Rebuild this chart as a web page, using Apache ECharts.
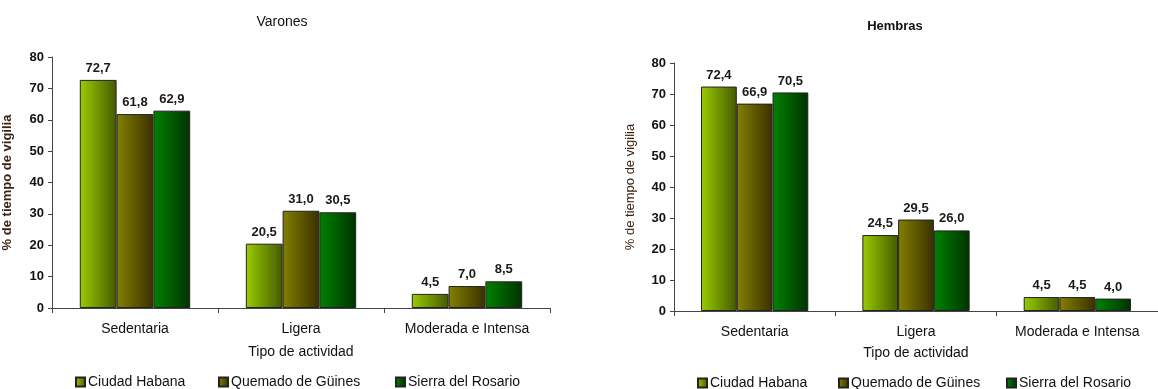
<!DOCTYPE html>
<html>
<head>
<meta charset="utf-8">
<script src="https://cdn.jsdelivr.net/npm/echarts@6/dist/echarts.min.js"></script>
<style>
  html, body { margin: 0; padding: 0; background: #fff; }
  #chart { width: 1158px; height: 389px; }
</style>
</head>
<body>
<div id="chart"></div>
<script>
// datos
var categorias = ["Sedentaria", "Ligera", "Moderada e Intensa"];
var zonas = ["Ciudad Habana", "Quemado de Güines", "Sierra del Rosario"];
var varonesHabana = [72.7, 20.5, 4.5];
var varonesQuemado = [61.8, 31.0, 7.0];
var varonesSierra = [62.9, 30.5, 8.5];
var hembrasHabana = [72.4, 24.5, 4.5];
var hembrasQuemado = [66.9, 29.5, 4.5];
var hembrasSierra = [70.5, 26.0, 4.0];
var yTicks = [0, 10, 20, 30, 40, 50, 60, 70, 80];

var fuente = "Liberation Sans";
var colores = [
  ["#99cc00", "#465a00"],
  ["#848000", "#3a3000"],
  ["#008200", "#003200"]
];

function grad(i) {
  return new echarts.graphic.LinearGradient(0, 0, 1, 0, [
    { offset: 0, color: colores[i][0] },
    { offset: 1, color: colores[i][1] }
  ]);
}

function serie(nombre, idx, datos, eje) {
  return {
    name: nombre,
    type: "bar",
    xAxisIndex: eje,
    yAxisIndex: eje,
    data: datos,
    barGap: "0%",
    barCategoryGap: "33.5%",
    itemStyle: { color: grad(idx), borderColor: "#222", borderWidth: 1 },
    label: {
      show: true,
      position: "top",
      distance: 5,
      fontFamily: fuente,
      fontWeight: "bold",
      fontSize: 13,
      color: "#1a1a1a",
      formatter: function (p) { return p.value.toFixed(1).replace(".", ","); }
    }
  };
}

function ejeX(grid, nameGap) {
  return {
    type: "category",
    gridIndex: grid,
    data: categorias,
    name: "Tipo de actividad",
    nameLocation: "middle",
    nameGap: nameGap,
    nameTextStyle: { fontFamily: fuente, fontSize: 14, color: "#111" },
    axisLine: { lineStyle: { color: "#444", width: 1 } },
    axisTick: { show: true, interval: 0, length: 5, lineStyle: { color: "#444" } },
    axisLabel: { interval: 0, margin: 14, fontFamily: fuente, fontSize: 14, color: "#111" }
  };
}

function ejeY(grid, nameGap, peso) {
  return {
    type: "value",
    gridIndex: grid,
    min: yTicks[0],
    max: yTicks[yTicks.length - 1],
    interval: 10,
    name: "% de tiempo de vigilia",
    nameLocation: "middle",
    nameRotate: 90,
    nameGap: nameGap,
    nameTextStyle: { fontFamily: fuente, fontSize: 13, fontWeight: peso, color: "#3b2314" },
    axisLine: { show: true, lineStyle: { color: "#444", width: 1 } },
    axisTick: { show: true, length: 4, lineStyle: { color: "#444" } },
    splitLine: { show: false },
    axisLabel: { margin: 8, fontFamily: fuente, fontSize: 13, fontWeight: "bold", color: "#111" }
  };
}

function leyenda(nombre, x, y) {
  return {
    data: [nombre],
    left: x,
    top: y,
    padding: 0,
    itemWidth: 9,
    itemHeight: 9,
    itemGap: 0,
    selectedMode: false,
    icon: "rect",
    textStyle: { fontFamily: fuente, fontSize: 14, color: "#111", padding: [0, 0, 0, -2] }
  };
}

var chart = echarts.init(document.getElementById("chart"));
chart.setOption({
  animation: false,
  title: [
    { text: "Varones", left: 277, top: 10, textAlign: "center",
      textStyle: { fontFamily: fuente, fontSize: 14, fontWeight: "normal", color: "#111" } },
    { text: "Hembras", left: 890, top: 15, textAlign: "center",
      textStyle: { fontFamily: fuente, fontSize: 13, fontWeight: "bold", color: "#111" } }
  ],
  legend: [
    leyenda(zonas[0], 75, 375),
    leyenda(zonas[1], 218, 375),
    leyenda(zonas[2], 395, 375),
    leyenda(zonas[0], 697, 376),
    leyenda(zonas[1], 838, 376),
    leyenda(zonas[2], 1006, 376)
  ],
  grid: [
    { left: 52, top: 57, width: 498, height: 251 },
    { left: 674, top: 63, width: 486, height: 248 }
  ],
  xAxis: [ejeX(0, 37), ejeX(1, 35)],
  yAxis: [ejeY(0, 38, "bold"), ejeY(1, 37, "normal")],
  series: [
    serie(zonas[0], 0, varonesHabana, 0),
    serie(zonas[1], 1, varonesQuemado, 0),
    serie(zonas[2], 2, varonesSierra, 0),
    serie(zonas[0], 0, hembrasHabana, 1),
    serie(zonas[1], 1, hembrasQuemado, 1),
    serie(zonas[2], 2, hembrasSierra, 1)
  ]
});
window.addEventListener("resize", function () {
  chart.resize();
});
</script>
</body>
</html>
